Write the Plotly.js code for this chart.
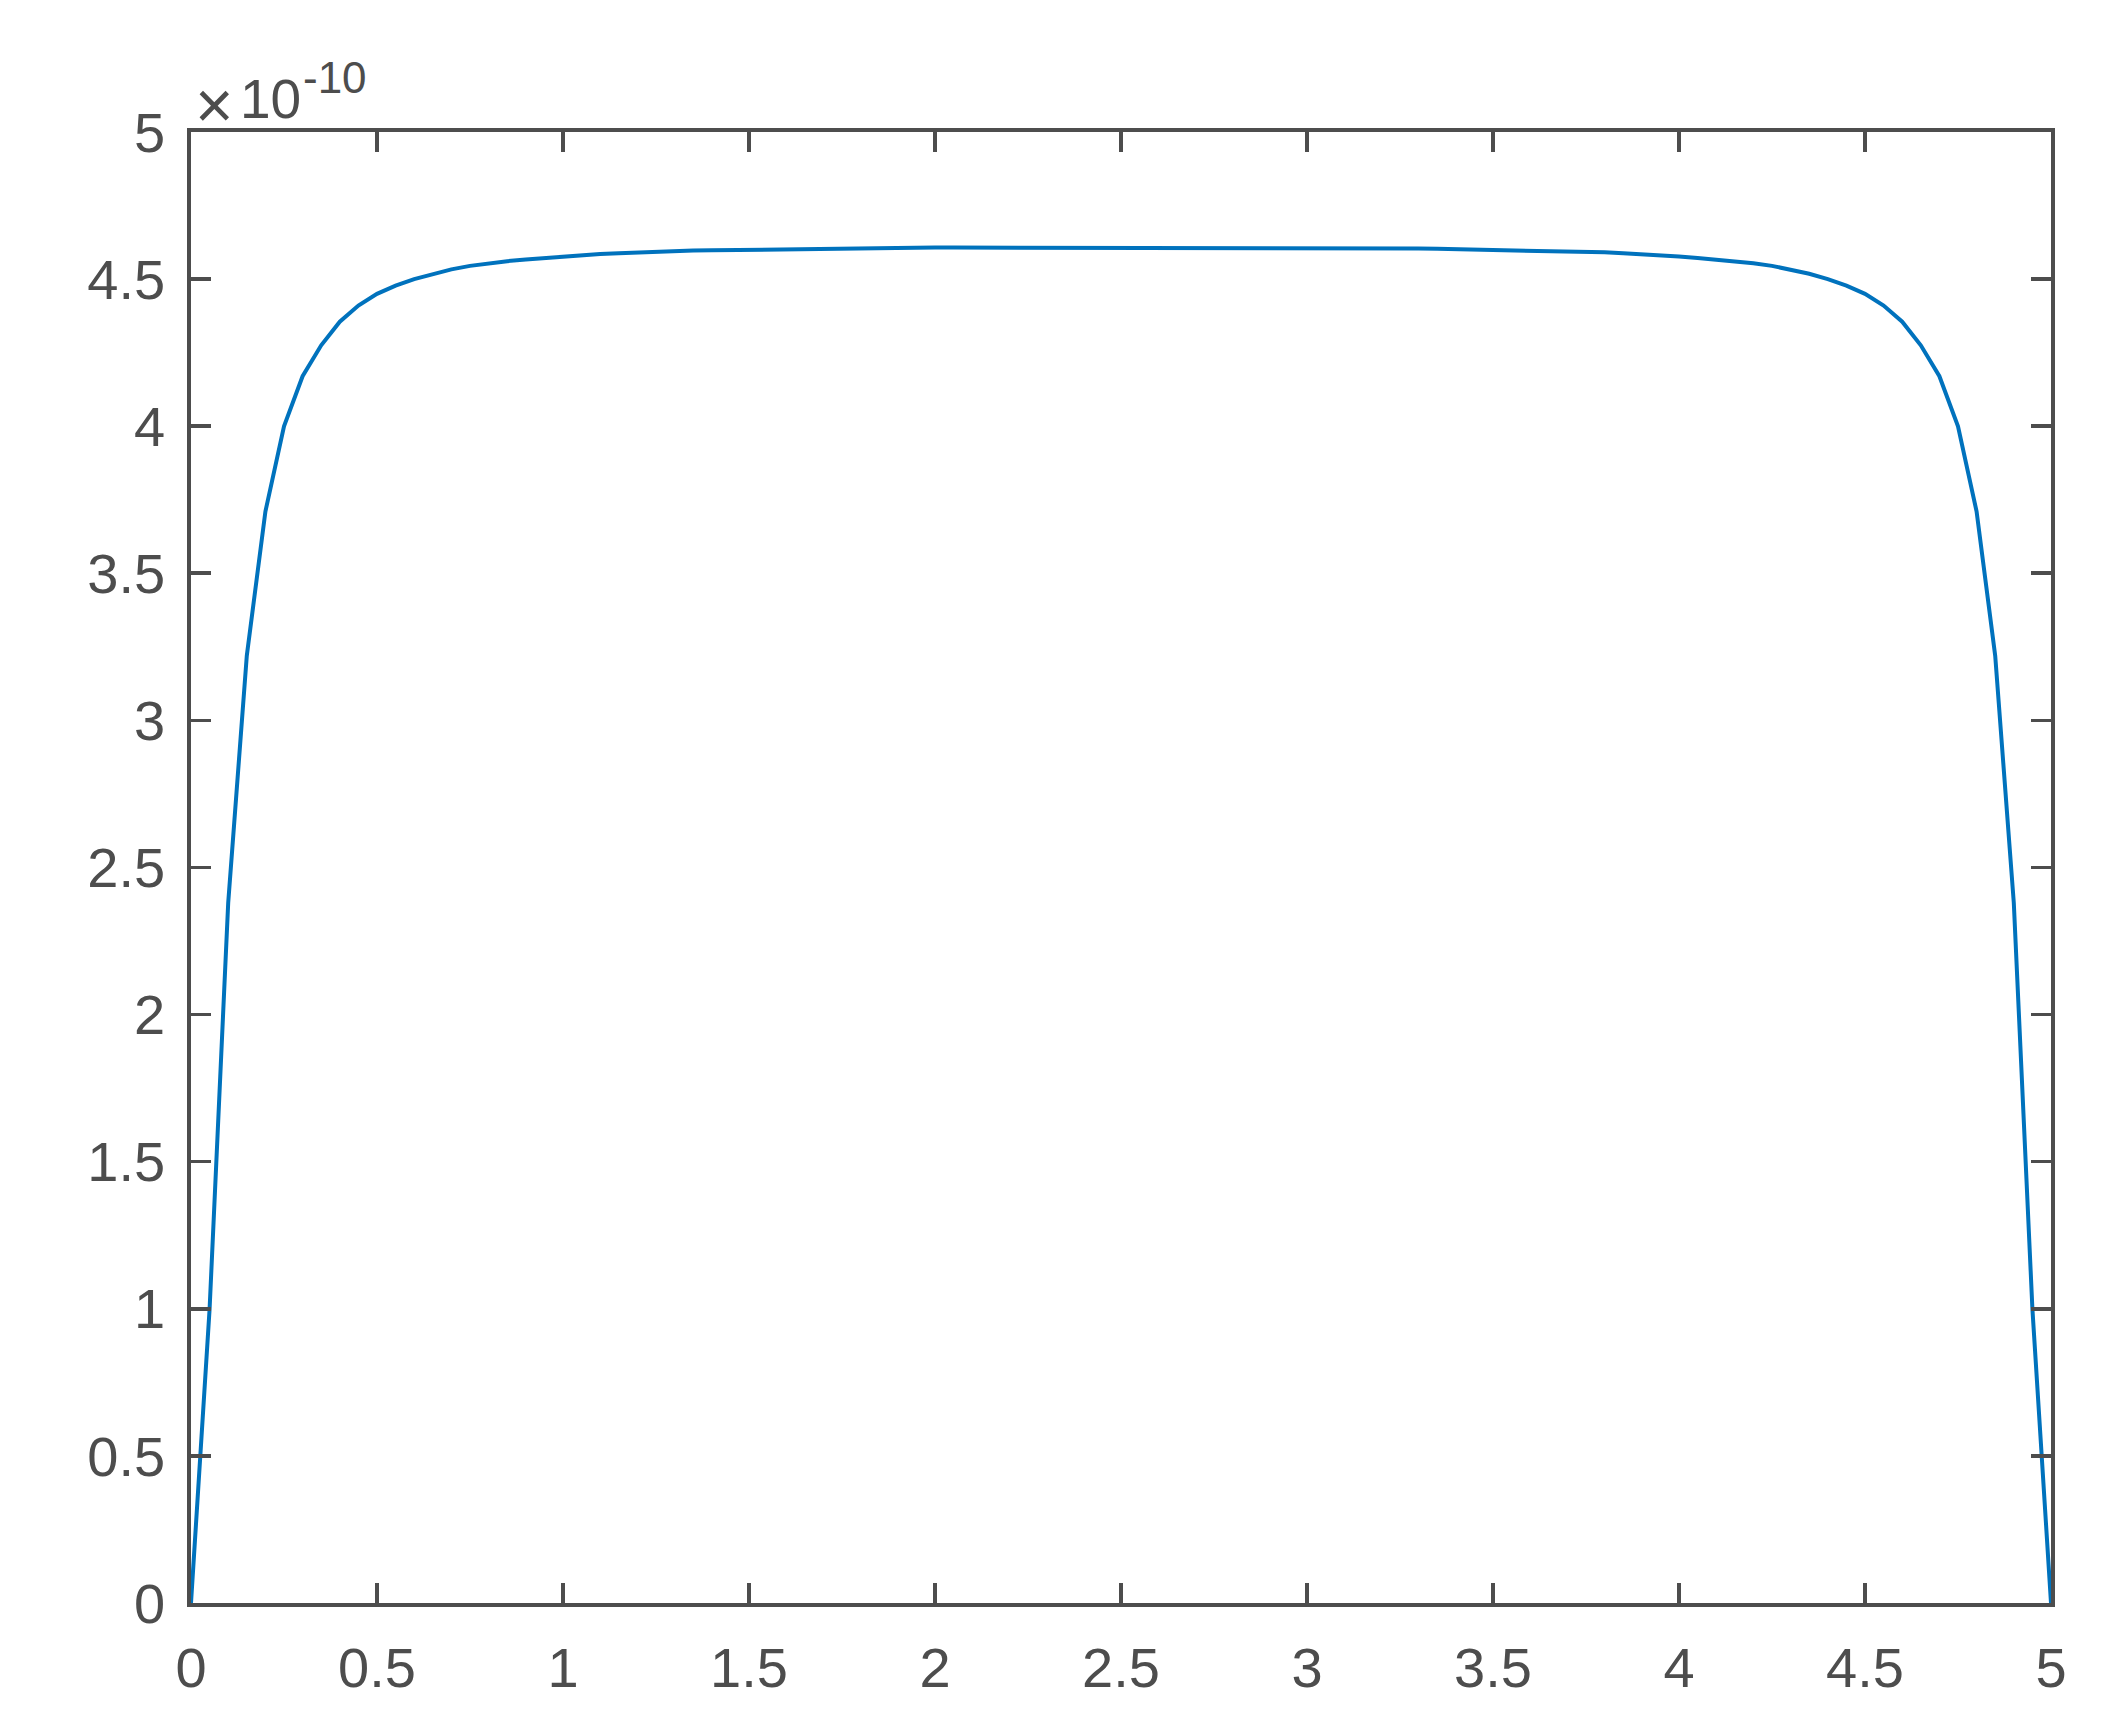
<!DOCTYPE html>
<html>
<head>
<meta charset="utf-8">
<script src="https://cdn.plot.ly/plotly-3.0.1.min.js"></script>
<style>
html,body{margin:0;padding:0;background:#fff;}
#chart{width:2114px;height:1717px;}
</style>
</head>
<body>
<div id="chart"></div>
<script>
// x positions
var xValues = [
 0.00,0.05,0.10,0.15,0.20,0.25,0.30,0.35,0.40,0.45,
 0.50,0.55,0.60,0.65,0.70,0.75,0.80,0.85,0.90,0.95,
 1.00,1.05,1.10,1.15,1.20,1.25,1.30,1.35,1.40,1.45,
 1.50,1.55,1.60,1.65,1.70,1.75,1.80,1.85,1.90,1.95,
 2.00,2.05,2.10,2.15,2.20,2.25,2.30,2.35,2.40,2.45,
 2.50,2.55,2.60,2.65,2.70,2.75,2.80,2.85,2.90,2.95,
 3.00,3.05,3.10,3.15,3.20,3.25,3.30,3.35,3.40,3.45,
 3.50,3.55,3.60,3.65,3.70,3.75,3.80,3.85,3.90,3.95,
 4.00,4.05,4.10,4.15,4.20,4.25,4.30,4.35,4.40,4.45,
 4.50,4.55,4.60,4.65,4.70,4.75,4.80,4.85,4.90,4.95,
 5.00
];
// y values in units of 1e-10
var yValues = [
 0.000,1.000,2.380,3.220,3.710,4.000,4.170,4.275,4.355,4.410,
 4.450,4.478,4.500,4.518,4.533,4.545,4.554,4.561,4.567,4.572,
 4.577,4.581,4.585,4.588,4.591,4.593,4.595,4.597,4.598,4.599,
 4.600,4.601,4.602,4.603,4.604,4.605,4.605,4.606,4.606,4.606,
 4.607,4.607,4.607,4.607,4.607,4.607,4.607,4.607,4.607,4.607,
 4.607,4.607,4.607,4.607,4.607,4.607,4.607,4.607,4.607,4.607,
 4.607,4.606,4.606,4.606,4.605,4.605,4.604,4.603,4.602,4.601,
 4.600,4.599,4.598,4.597,4.595,4.593,4.591,4.588,4.585,4.581,
 4.577,4.572,4.567,4.561,4.554,4.545,4.533,4.518,4.500,4.478,
 4.450,4.410,4.355,4.275,4.170,4.000,3.710,3.220,2.380,1.000,
 0.000
];
var xTickVals = [0,0.5,1,1.5,2,2.5,3,3.5,4,4.5,5];
var xTickText = ["0","0.5","1","1.5","2","2.5","3","3.5","4","4.5","5"];
var yTickVals = [0,0.5,1,1.5,2,2.5,3,3.5,4,4.5,5];
var yTickText = ["0","0.5","1","1.5","2","2.5","3","3.5","4","4.5","5"];
var exponentTimes = "\u00d7";
var exponentBase = "10";
var exponentPower = "-10";

var axisColor = "#4d4d4d";
var fontFamily = "Liberation Sans, Arial, Helvetica, sans-serif";

var trace = {
  x: xValues,
  y: yValues,
  type: "scatter",
  mode: "lines",
  line: {color: "#0072BD", width: 4},
  hoverinfo: "skip"
};

var axisCommon = {
  showline: true,
  linecolor: axisColor,
  linewidth: 3.7,
  mirror: "ticks",
  ticks: "inside",
  ticklen: 20,
  tickwidth: 3.6,
  tickcolor: axisColor,
  showgrid: false,
  zeroline: false,
  tickfont: {family: fontFamily, size: 56, color: axisColor},
  range: [0, 5],
  fixedrange: true
};

var layout = {
  width: 2114,
  height: 1717,
  margin: {l: 191, r: 63, t: 132, b: 114, pad: 0},
  paper_bgcolor: "#ffffff",
  plot_bgcolor: "#ffffff",
  showlegend: false,
  xaxis: Object.assign({}, axisCommon, {
    tickmode: "array", tickvals: xTickVals, ticktext: xTickText,
    ticklabelstandoff: 13
  }),
  yaxis: Object.assign({}, axisCommon, {
    tickmode: "array", tickvals: yTickVals, ticktext: yTickText,
    ticklabelstandoff: 11
  }),
  annotations: [{
    text: exponentTimes,
    xref: "paper", yref: "paper",
    x: 0.0124, y: 1.0183,
    xanchor: "center", yanchor: "middle",
    showarrow: false, borderpad: 0,
    font: {family: fontFamily, size: 66, color: axisColor}
  }, {
    text: exponentBase,
    xref: "paper", yref: "paper",
    x: 0.0258, y: 1.0224,
    xanchor: "left", yanchor: "middle",
    showarrow: false, borderpad: 0,
    font: {family: fontFamily, size: 55, color: axisColor}
  }, {
    text: exponentPower,
    xref: "paper", yref: "paper",
    x: 0.0597, y: 1.0368,
    xanchor: "left", yanchor: "middle",
    showarrow: false, borderpad: 0,
    font: {family: fontFamily, size: 44, color: axisColor}
  }]
};

Plotly.newPlot("chart", [trace], layout, {displayModeBar: false, staticPlot: true});
</script>
</body>
</html>
